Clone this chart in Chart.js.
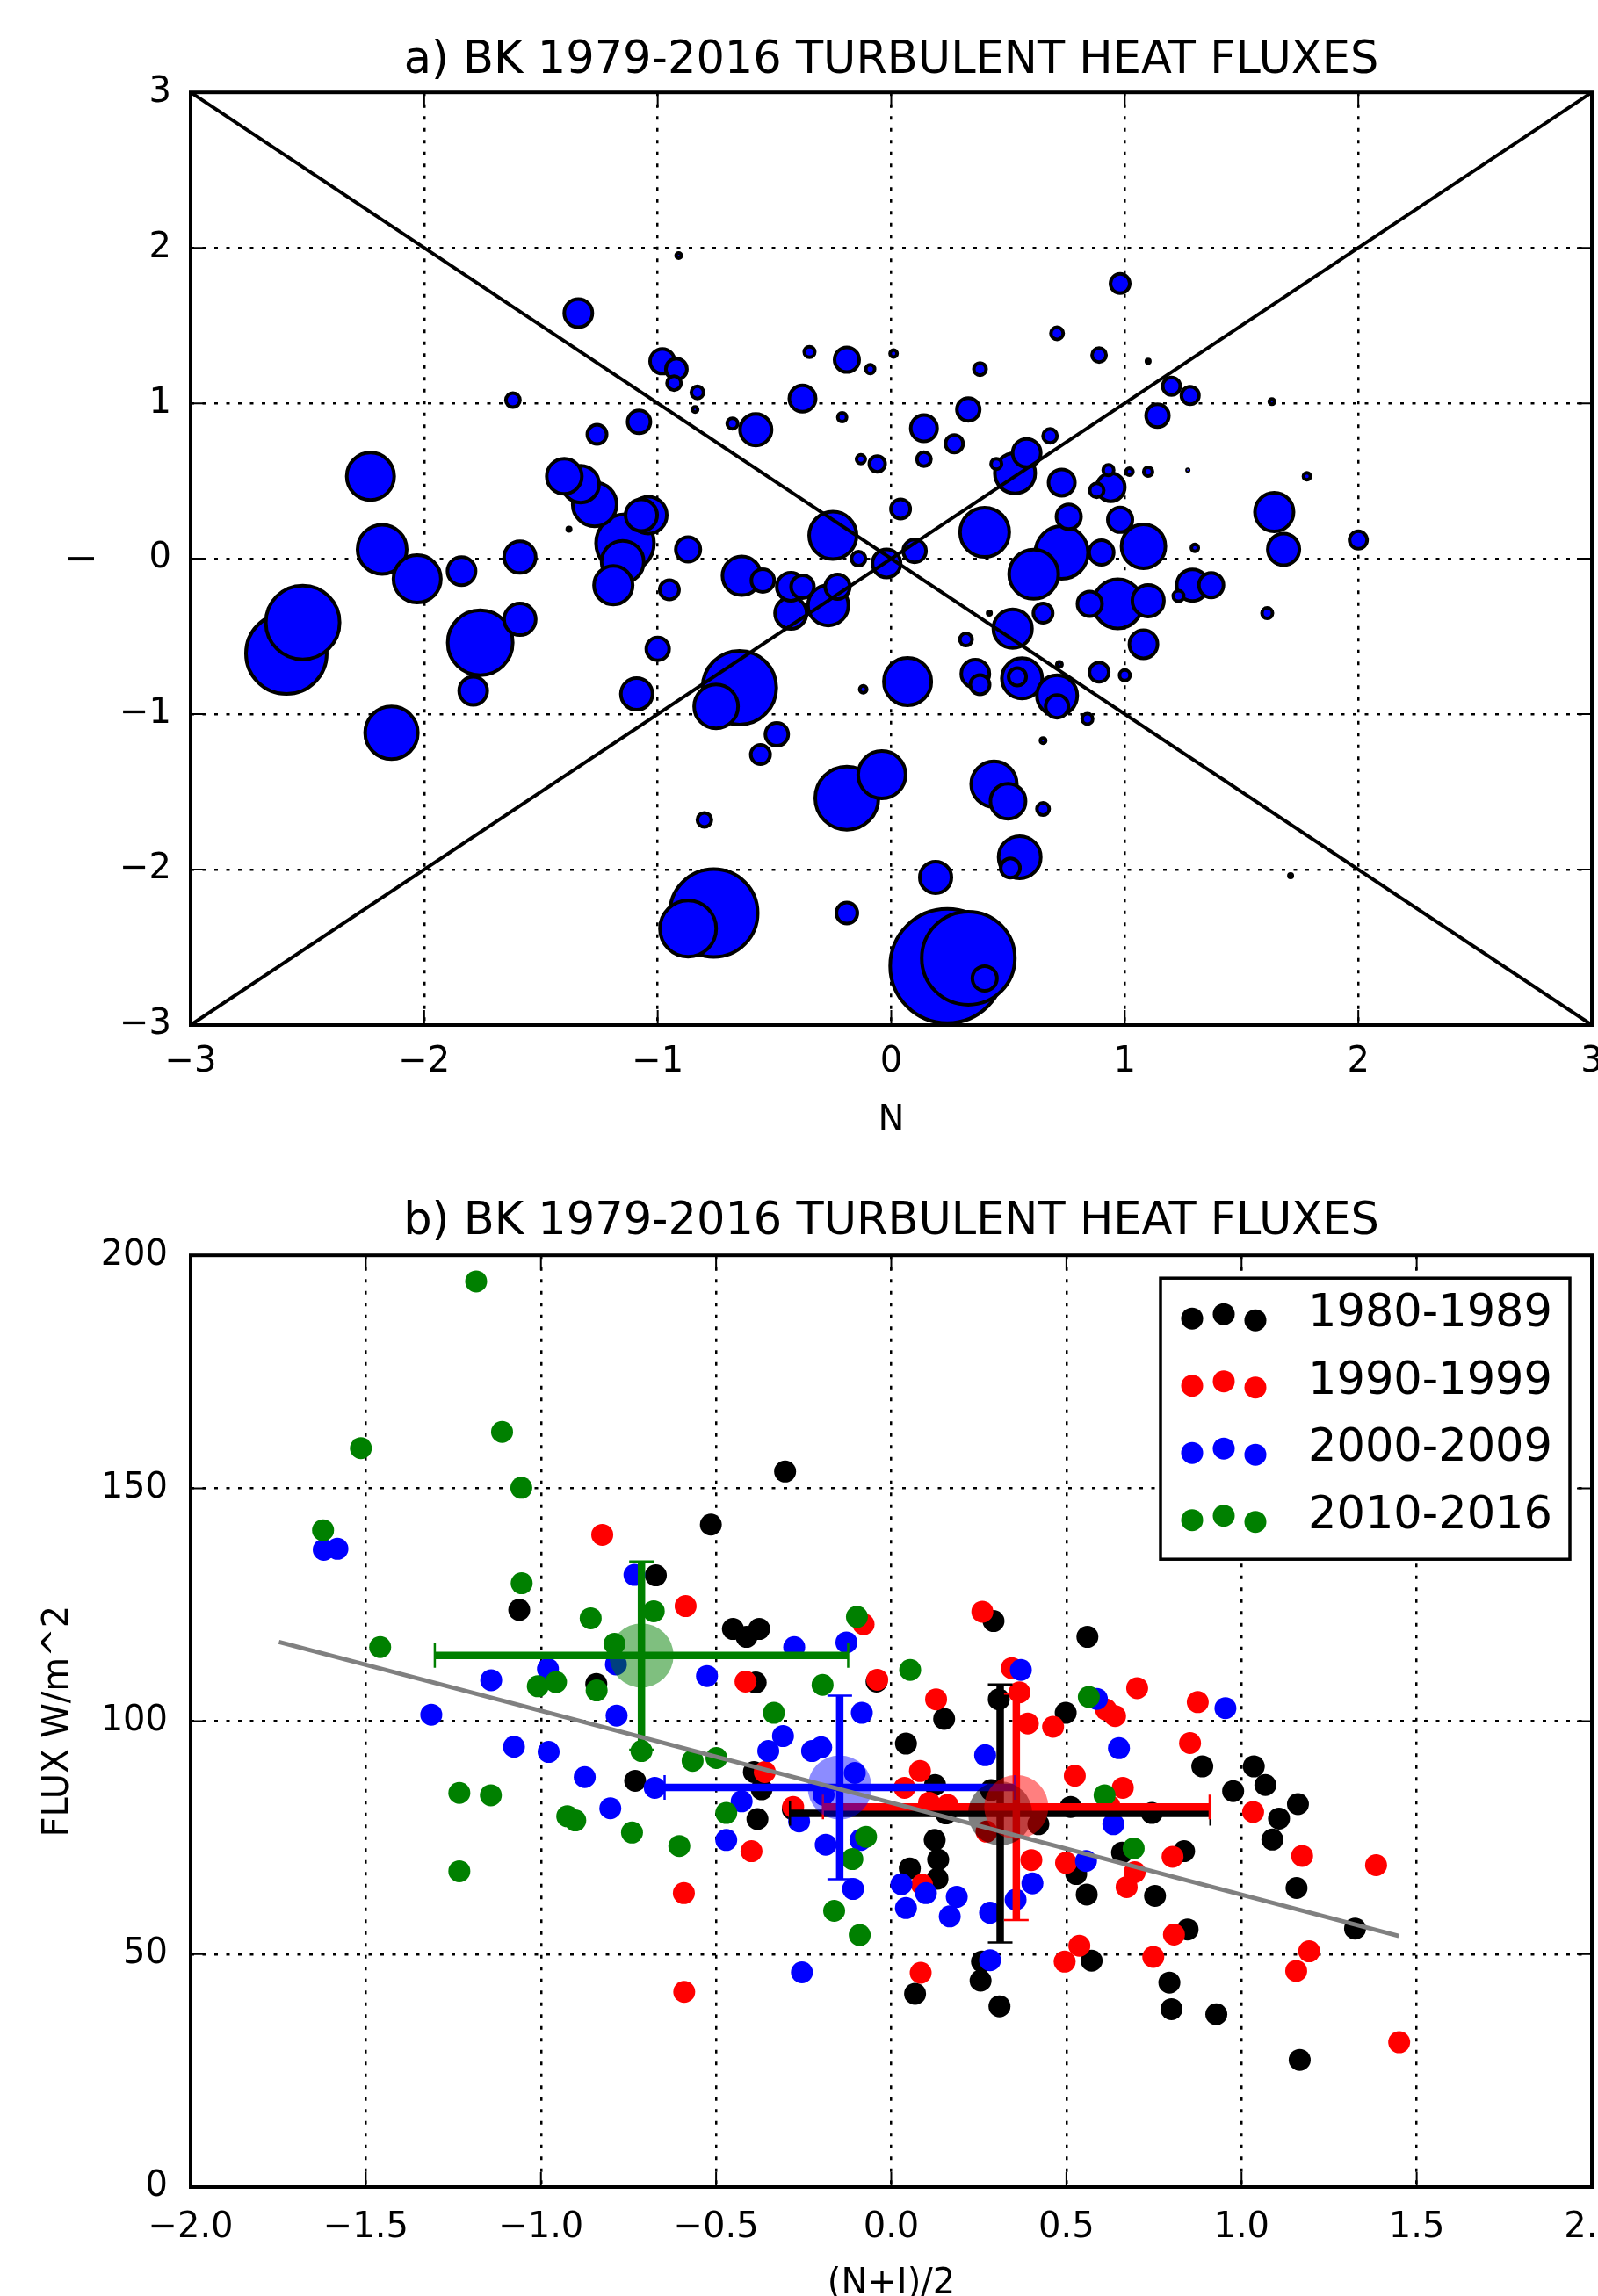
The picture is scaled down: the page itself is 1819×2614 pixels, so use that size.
<!DOCTYPE html>
<html lang="en">
<head>
  <meta charset="UTF-8" />
  <title>BK 1979-2016 Turbulent Heat Fluxes</title>
  <script src="https://cdn.jsdelivr.net/npm/chart.js"></script>
  <style>
    html, body {
      margin: 0;
      padding: 0;
      background: #ffffff;
      overflow: hidden;
    }

    canvas {
      position: absolute;
      left: 0;
      display: block;
    }

    #panelA { top: 0; }
    #panelB { top: 1310px; }
  </style>
</head>

<body>
  <canvas id="panelA" width="1819" height="1310"></canvas>
  <canvas id="panelB" width="1819" height="1330"></canvas>

  <script>
    // ---- panel a: N / I index per case, bubble size = flux magnitude ----
    const bubN = [-2.59, -2.52, -2.23, -2.18, -2.03, -2.14, -1.84, -1.76, -1.59, -1.79,
      -1.59, -1.62, -1.34, -1.40, -1.33, -1.27, -1.26, -1.08, -1.04, -1.07,
      -1.14, -1.15, -1.19, -1.38, -0.87, -0.95, -1.00, -1.09, -0.91, -0.98,
      -0.92, -0.93, -0.83, -0.84, -0.68, -0.58, -0.35, -0.19, -0.09, -0.38,
      -0.21, -0.13, -0.06, -0.64, -0.55, -0.43, -0.38, -0.43, -0.27, -0.23,
      -0.25, -0.14, -0.02, -0.65, -0.75, -0.49, -0.56, -0.12, -0.80, -0.19,
      -0.04, -0.76, -0.87, -0.19, 0.24, 0.33, 0.40, 0.19, 0.55, 0.51,
      0.44, 0.50, 0.65, 0.65, 0.07, 0.36, 0.38, 0.56, 0.54, 0.71,
      0.71, 0.84, 0.72, 0.89, 1.00, 0.32, 0.52, 0.65, 0.42, 0.61,
      0.73, 0.85, 0.97, 1.10, 1.08, 1.29, 1.37, 1.23, 1.61, 1.71,
      1.08, 0.90, 1.68, 1.64, 1.30, 2.00, 0.10, 0.04, 0.40, 0.76,
      0.98, 0.73, 0.94, 0.88, 0.93, 1.02, 1.10, 1.27, 1.78, 0.53,
      0.58, 0.45, 0.68, 0.14, 0.27, 0.14, 0.33, 0.38, 0.01, 0.71,
      0.89, 1.10, 0.98, 1.20, 1.28, 1.14, 1.63];
    const bubI = [-0.61, -0.41, 0.53, 0.06, -0.13, -1.12, -0.08, -0.54, -0.39, -0.85,
      0.01, 1.02, 1.58, 0.53, 0.48, 0.35, 0.80, 0.88, 0.28, 0.28,
      0.10, -0.02, -0.17, 0.19, 0.06, -0.20, -0.58, -0.87, 1.95, 1.27,
      1.22, 1.13, 1.07, 0.96, 0.87, 0.83, 1.33, 1.28, 1.22, 1.03,
      0.91, 0.64, 0.61, -0.11, -0.14, -0.18, -0.18, -0.35, -0.30, -0.18,
      0.15, 0.00, -0.03, -0.83, -0.95, -1.13, -1.26, -0.84, -1.68, -1.54,
      -1.39, -2.28, -2.38, -2.28, -2.62, -2.57, -2.70, -2.05, -1.92, -1.99,
      -1.45, -1.56, -1.61, -1.17, -0.79, -0.74, -0.81, -0.77, -0.76, -0.88,
      -0.95, -1.03, -0.68, -0.73, -0.75, -0.52, -0.45, -0.35, -0.35, -0.10,
      0.04, -0.29, -0.29, -0.27, -0.55, -0.17, -0.17, -0.24, -0.35, -2.04,
      0.08, 0.04, 0.06, 0.30, 0.07, 0.12, 0.05, 0.32, 0.17, 0.27,
      0.25, 0.49, 0.46, 0.44, 0.57, 0.56, 0.56, 0.57, 0.53, 0.55,
      0.68, 0.61, 0.79, 0.64, 0.74, 0.84, 0.96, 1.22, 1.32, 1.45,
      1.31, 1.27, 1.77, 1.11, 1.05, 0.92, 1.01];
    const bubSize = [4.8, 4.4, 2.9, 3.0, 2.9, 3.2, 1.8, 3.9, 2.0, 1.8,
      2.0, 1.0, 1.8, 2.2, 2.3, 2.7, 1.3, 1.5, 2.3, 2.0,
      3.5, 2.6, 2.4, 0.4, 1.6, 1.3, 1.5, 2.0, 0.5, 1.6,
      1.4, 1.0, 0.9, 0.5, 0.8, 2.0, 0.8, 1.6, 0.7, 1.7,
      0.7, 0.7, 1.1, 2.4, 1.5, 1.8, 1.5, 2.0, 2.5, 1.6,
      2.9, 1.0, 1.8, 4.4, 2.7, 1.5, 1.3, 0.6, 1.0, 3.8,
      2.9, 5.2, 3.4, 1.4, 6.7, 5.5, 1.6, 2.0, 2.6, 1.3,
      2.8, 2.2, 0.9, 0.5, 2.9, 1.8, 1.3, 2.5, 1.2, 2.5,
      1.5, 0.8, 0.5, 1.3, 0.8, 0.9, 2.4, 1.3, 0.4, 3.0,
      3.2, 1.6, 3.0, 2.0, 1.8, 2.0, 1.6, 0.8, 0.8, 0.4,
      2.7, 1.6, 2.0, 2.4, 0.6, 1.2, 1.5, 1.3, 3.0, 1.6,
      1.6, 1.7, 1.8, 1.0, 0.8, 0.6, 0.7, 0.3, 0.6, 2.5,
      1.8, 0.8, 1.0, 1.0, 1.2, 1.7, 1.5, 0.9, 0.6, 0.9,
      1.0, 0.4, 1.3, 1.2, 1.2, 1.5, 0.5];
    const diagN = [-3, 3];
    const diagUp = [-3, 3];
    const diagDown = [3, -3];
    const ticksA = [-3, -2, -1, 0, 1, 2, 3];

    // ---- panel b: (N+I)/2 vs flux, by decade ----
    const decadeLabels = ['1980-1989', '1990-1999', '2000-2009', '2010-2016'];
    const decadeColors = ['#000000', '#ff0000', '#0000ff', '#008000'];
    const decadeShade = ['rgba(0,0,0,0.5)', 'rgba(255,0,0,0.5)', 'rgba(0,0,255,0.45)', 'rgba(0,128,0,0.5)'];

    const x80 = [-0.303, -0.515, -0.672, -1.062, -0.452, -0.413, -0.377, -0.842, -0.387, -0.042,
      0.292, 0.560, 0.307, 0.151, 0.498, 0.042, 0.125, 0.285, 0.156, 0.124,
      0.134, 0.053, 0.132, 0.420, 0.512, 0.744, 0.888, 1.035, 0.976, 1.068,
      1.161, 1.107, 1.088, 1.157, 1.324, 0.659, 0.836, 0.528, 0.558, 0.753,
      0.846, 0.572, 0.794, 0.800, 0.928, 1.166, 0.259, 0.255, 0.309, 0.068,
      -0.731, -0.392, -0.370, -0.281, -0.382];
    const y80 = [153.6, 142.2, 131.3, 123.9, 119.8, 118.1, 119.8, 108.0, 108.3, 108.5,
      121.5, 118.1, 104.7, 100.5, 101.8, 95.2, 86.3, 85.2, 80.2, 74.5,
      70.3, 68.4, 66.2, 77.9, 81.6, 80.3, 90.3, 90.3, 85.0, 86.3,
      82.2, 79.1, 74.6, 64.2, 55.5, 71.8, 72.1, 67.2, 62.8, 62.5,
      55.3, 48.6, 43.9, 38.2, 37.1, 27.3, 48.4, 44.3, 38.8, 41.5,
      87.2, 89.1, 85.4, 81.1, 79.0];

    const x90 = [-0.825, -0.587, -0.079, -0.416, -0.040, 0.260, 0.344, 0.128, 0.366, 0.702,
      0.875, 0.613, 0.639, 0.082, 0.038, 0.108, 0.161, 0.272, 0.088, 0.400,
      0.390, 0.462, 0.524, 0.661, 0.623, 0.853, 1.033, 1.173, 1.384, 0.803,
      0.499, 0.695, 0.672, 0.807, 0.537, 0.495, 0.748, 1.193, 1.156, 1.450,
      0.084, -0.361, -0.280, -0.399, -0.592, -0.591];
    const y90 = [140.0, 124.7, 120.8, 108.5, 108.9, 123.5, 111.4, 104.7, 106.2, 107.1,
      104.1, 102.5, 101.1, 89.3, 85.7, 82.5, 82.0, 76.3, 64.9, 70.2,
      99.5, 98.8, 88.3, 85.7, 81.8, 95.3, 80.5, 71.1, 69.1, 70.9,
      69.6, 67.6, 64.4, 54.2, 51.8, 48.4, 49.4, 50.6, 46.4, 31.1,
      46.0, 89.1, 81.6, 72.1, 63.1, 41.9];

    const x00 = [-1.620, -1.581, -0.733, -0.277, -0.128, -0.980, -0.786, -1.142, -0.526, -1.313,
      -0.784, -0.084, 0.370, 0.587, 0.954, 0.268, 0.029, 0.099, 0.187, 0.042,
      0.167, 0.282, 0.355, 0.403, 0.634, 0.650, 0.556, 0.282, -1.077, -0.978,
      -0.309, -0.351, -0.226, -0.200, -0.875, -0.675, -0.104, -0.193, -0.427, -0.802,
      -0.263, -0.471, -0.187, -0.088, -0.109, -0.255];
    const y00 = [136.8, 137.0, 131.4, 115.9, 116.9, 111.2, 112.2, 108.8, 109.7, 101.4,
      101.2, 101.8, 111.0, 104.8, 102.8, 92.7, 65.0, 63.1, 62.3, 59.9,
      58.1, 58.9, 61.7, 65.2, 77.9, 94.2, 70.0, 48.7, 94.5, 93.4,
      96.8, 93.6, 93.6, 94.4, 88.0, 85.7, 88.9, 84.2, 82.8, 81.3,
      78.5, 74.5, 73.5, 74.5, 64.0, 46.1];

    const x10 = [-1.185, -1.111, -1.514, -1.056, -1.622, -1.055, -0.858, -0.678, -1.459, -0.790,
      -0.098, -1.009, -0.957, -0.841, -0.196, -0.335, 0.054, 0.564, 0.609, 0.692,
      -0.713, -0.567, -0.499, -1.233, -1.143, -0.925, -0.902, -0.471, -0.740, -0.605,
      -0.072, -0.111, -1.233, -0.163, -0.090];
    const y10 = [194.4, 162.1, 158.6, 150.1, 141.0, 129.6, 122.1, 123.6, 115.9, 116.6,
      122.4, 107.5, 108.4, 106.6, 107.8, 101.8, 111.0, 105.2, 84.1, 72.7,
      93.6, 91.5, 92.1, 84.6, 84.1, 79.6, 78.7, 80.3, 76.1, 73.2,
      75.2, 70.4, 67.8, 59.3, 54.1];

    // decade means with one standard deviation
    const meanX = [0.311, 0.357, -0.147, -0.713];
    const meanY = [80.2, 81.6, 85.8, 114.1];
    const errX = [0.600, 0.552, 0.500, 0.590];
    const errY = [27.7, 24.3, 19.7, 20.2];

    // regression line
    const fitX = [-1.748, 1.449];
    const fitY = [117.0, 53.9];

    const ticksBx = [-2.0, -1.5, -1.0, -0.5, 0.0, 0.5, 1.0, 1.5, 2.0];
    const ticksBy = [0, 50, 100, 150, 200];

    Chart.defaults.font.family = "'DejaVu Sans', sans-serif";
    Chart.defaults.color = '#000';
    Chart.defaults.animation = false;

    const fmt = (v, d) => (v < 0 ? '\u2212' : '') + Math.abs(v).toFixed(d);
    const pairs = (xs, ys) => xs.map((v, i) => ({ x: v, y: ys[i] }));

    // matplotlib style frame with inward ticks on all four sides
    const frame = {
      id: 'frame',
      afterDatasetsDraw(chart) {
        const { ctx, chartArea: a, scales: { x, y } } = chart;
        ctx.save();
        ctx.strokeStyle = '#000';
        ctx.lineWidth = 2;
        ctx.beginPath();
        x.ticks.forEach(t => {
          const px = x.getPixelForValue(t.value);
          ctx.moveTo(px, a.top); ctx.lineTo(px, a.top + 17);
          ctx.moveTo(px, a.bottom); ctx.lineTo(px, a.bottom - 17);
        });
        y.ticks.forEach(t => {
          const py = y.getPixelForValue(t.value);
          ctx.moveTo(a.left, py); ctx.lineTo(a.left + 17, py);
          ctx.moveTo(a.right, py); ctx.lineTo(a.right - 17, py);
        });
        ctx.stroke();
        ctx.lineWidth = 4;
        ctx.strokeRect(a.left, a.top, a.right - a.left, a.bottom - a.top);
        ctx.restore();
      }
    };

    function axis(min, max, ticks, decimals, opts) {
      return {
        type: 'linear',
        min: min,
        max: max,
        afterBuildTicks: s => { s.ticks = ticks.map(v => ({ value: v })); },
        afterFit: opts.fit,
        grid: { color: '#000', lineWidth: 2.5, drawTicks: false },
        border: { display: false, dash: [4, 9.5] },
        ticks: {
          color: '#000',
          font: { size: 40 },
          padding: opts.pad,
          autoSkip: false,
          maxRotation: 0,
          callback: v => fmt(v, decimals)
        },
        title: {
          display: true,
          text: opts.title,
          color: '#000',
          font: { size: 40 },
          padding: opts.titlePad
        }
      };
    }

    // ---------------- panel a ----------------
    const bubbles = bubN.map((n, i) => ({ x: n, y: bubI[i], r: bubSize[i] * 10 - 2 }))
      .sort((p, q) => q.r - p.r);

    new Chart(document.getElementById('panelA'), {
      type: 'bubble',
      data: {
        datasets: [
          {
            type: 'line',
            data: pairs(diagN, diagUp),
            borderColor: '#000',
            borderWidth: 4,
            pointRadius: 0,
            order: 0
          },
          {
            type: 'line',
            data: pairs(diagN, diagDown),
            borderColor: '#000',
            borderWidth: 4,
            pointRadius: 0,
            order: 0
          },
          {
            data: bubbles,
            backgroundColor: '#0000ff',
            borderColor: '#000',
            borderWidth: 4,
            order: 1
          }
        ]
      },
      options: {
        responsive: false,
        events: [],
        layout: { autoPadding: false, padding: { left: 0, right: 7, top: 0, bottom: 0 } },
        scales: {
          x: axis(-3, 3, ticksA, 0, {
            title: 'N', pad: 19, titlePad: { top: 0, bottom: 9 },
            fit: s => { s.height = 143; s.paddingLeft = 0; s.paddingRight = 0; }
          }),
          y: axis(-3, 3, ticksA, 0, {
            title: 'I', pad: 22, titlePad: { top: 73, bottom: 0 },
            fit: s => { s.width = 217; s.paddingTop = 0; s.paddingBottom = 0; }
          })
        },
        plugins: {
          legend: { display: false },
          tooltip: { enabled: false },
          title: {
            display: true,
            text: 'a) BK 1979-2016 TURBULENT HEAT FLUXES',
            color: '#000',
            fullSize: false,
            font: { size: 51, weight: 'normal' },
            padding: { top: 39, bottom: 5 }
          }
        }
      },
      plugins: [frame]
    });

    // ---------------- panel b ----------------
    // error bars go on top of the dots but under the shaded mean circles
    const errorBars = {
      id: 'errorBars',
      beforeDatasetDraw(chart, args) {
        if (args.meta.type !== 'bubble') return;
        const { ctx, scales: { x, y } } = chart;
        ctx.save();
        meanX.forEach((mx, i) => {
          const cx = x.getPixelForValue(mx);
          const cy = y.getPixelForValue(meanY[i]);
          const x0 = x.getPixelForValue(mx - errX[i]);
          const x1 = x.getPixelForValue(mx + errX[i]);
          const y0 = y.getPixelForValue(meanY[i] - errY[i]);
          const y1 = y.getPixelForValue(meanY[i] + errY[i]);
          ctx.strokeStyle = decadeColors[i];
          ctx.lineWidth = 8.5;
          ctx.beginPath();
          ctx.moveTo(x0, cy); ctx.lineTo(x1, cy);
          ctx.moveTo(cx, y0); ctx.lineTo(cx, y1);
          ctx.stroke();
          ctx.lineWidth = 2.5;
          ctx.beginPath();
          ctx.moveTo(x0, cy - 14); ctx.lineTo(x0, cy + 14);
          ctx.moveTo(x1, cy - 14); ctx.lineTo(x1, cy + 14);
          ctx.moveTo(cx - 14, y0); ctx.lineTo(cx + 14, y0);
          ctx.moveTo(cx - 14, y1); ctx.lineTo(cx + 14, y1);
          ctx.stroke();
        });
        ctx.restore();
      }
    };

    const decadeLegend = {
      id: 'decadeLegend',
      afterDraw(chart) {
        const { ctx, chartArea: a } = chart;
        const w = 466, h = 320;
        const left = a.right - 25 - w;
        const top = a.top + 26;
        const dx = [36, 72, 108];
        const dy = [4, -1, 6];
        ctx.save();
        ctx.fillStyle = '#fff';
        ctx.fillRect(left, top, w, h);
        ctx.lineWidth = 3.5;
        ctx.strokeStyle = '#000';
        ctx.strokeRect(left, top, w, h);
        ctx.font = "51px 'DejaVu Sans'";
        ctx.textBaseline = 'middle';
        ctx.textAlign = 'left';
        decadeLabels.forEach((lab, i) => {
          const cy = top + 42 + i * 76.5;
          ctx.fillStyle = decadeColors[i];
          dx.forEach((ox, k) => {
            ctx.beginPath();
            ctx.arc(left + ox, cy + dy[k], 12.5, 0, Math.PI * 2);
            ctx.fill();
          });
          ctx.fillStyle = '#000';
          ctx.fillText(lab, left + 168, cy);
        });
        ctx.restore();
      }
    };

    const seriesX = [x80, x90, x00, x10];
    const seriesY = [y80, y90, y00, y10];

    const scatterSets = decadeLabels.map((lab, i) => ({
      label: lab,
      data: pairs(seriesX[i], seriesY[i]),
      backgroundColor: decadeColors[i],
      pointRadius: 12.5,
      pointBorderWidth: 0,
      borderWidth: 0,
      order: 10 - i
    }));

    new Chart(document.getElementById('panelB'), {
      type: 'scatter',
      data: {
        datasets: [
          ...scatterSets,
          {
            type: 'bubble',
            label: 'means',
            data: meanX.map((v, i) => ({ x: v, y: meanY[i], r: 36.5 })),
            backgroundColor: decadeShade,
            borderWidth: 0,
            order: 2
          },
          {
            type: 'line',
            label: 'fit',
            data: pairs(fitX, fitY),
            borderColor: '#808080',
            borderWidth: 5,
            pointRadius: 0,
            order: 1
          }
        ]
      },
      options: {
        responsive: false,
        events: [],
        layout: { autoPadding: false, padding: { left: 0, right: 7, top: 0, bottom: 0 } },
        scales: {
          x: axis(-2, 2, ticksBx, 1, {
            title: '(N+I)/2', pad: 23, titlePad: { top: 0, bottom: 15 },
            fit: s => { s.height = 150; s.paddingLeft = 0; s.paddingRight = 0; }
          }),
          y: axis(0, 200, ticksBy, 0, {
            title: 'FLUX W/m^2', pad: 26, titlePad: { top: 43, bottom: 0 },
            fit: s => { s.width = 217; s.paddingTop = 0; s.paddingBottom = 0; }
          })
        },
        plugins: {
          legend: { display: false },
          tooltip: { enabled: false },
          title: {
            display: true,
            text: 'b) BK 1979-2016 TURBULENT HEAT FLUXES',
            color: '#000',
            fullSize: false,
            font: { size: 51, weight: 'normal' },
            padding: { top: 51, bottom: 7 }
          }
        }
      },
      plugins: [errorBars, frame, decadeLegend]
    });
  </script>
</body>
</html>
